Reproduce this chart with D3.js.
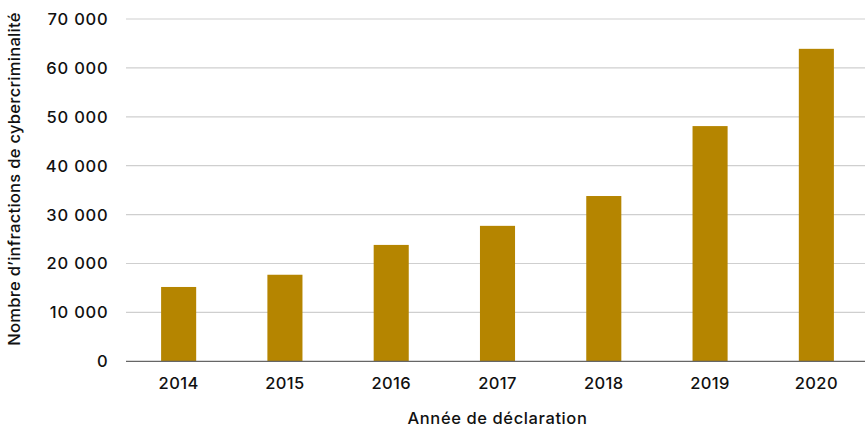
<!DOCTYPE html>
<html><head><meta charset="utf-8">
<script src="https://cdn.jsdelivr.net/npm/d3@7"></script>
<style>
html,body{margin:0;padding:0;background:#fff;}
svg text{font-family:Inter,"Open Sans",sans-serif;fill:#111;}
</style></head>
<body><svg id="c" width="865" height="429"></svg>
<script>
const years = ["2014","2015","2016","2017","2018","2019","2020"];
const values = [15200, 17700, 23800, 27700, 33800, 48100, 63900];
const yTicks = [0,10000,20000,30000,40000,50000,60000,70000];
const xTitle = "Année de déclaration";
const yTitle = "Nombre d’infractions de cybercriminalité";

const svg = d3.select("#c");
const x = d3.scaleBand().domain(years).range([125.5, 869.5]).paddingInner(0.67).paddingOuter(0.335);
const y = d3.scaleLinear().domain([0,70000]).range([361.3, 19]);
const fmt = v => d3.format(",")(v).replace(/,/g, " ");

// gridlines
svg.append("g").selectAll("line").data(yTicks.filter(d=>d>0)).join("line")
  .attr("x1",126).attr("x2",865)
  .attr("y1",d=>y(d)).attr("y2",d=>y(d))
  .attr("stroke","#cfcfcf").attr("stroke-width",1.2);

// y tick labels
svg.append("g").selectAll("text").data(yTicks).join("text")
  .attr("x",108.5).attr("y",d=>y(d)).attr("dy","0.36em")
  .attr("text-anchor","end").attr("font-size",16.5).attr("font-weight",500)
  .attr("letter-spacing","0.8px")
  .text(fmt);

// bars
svg.append("g").selectAll("rect").data(values).join("rect")
  .attr("x",(d,i)=>x(years[i])).attr("width",x.bandwidth())
  .attr("y",d=>y(d)).attr("height",d=>y(0)-y(d))
  .attr("fill","#B58500");

// baseline
svg.append("line").attr("x1",126).attr("x2",865).attr("y1",y(0)).attr("y2",y(0))
  .attr("stroke","#666").attr("stroke-width",1.3);

// x tick labels
svg.append("g").selectAll("text").data(years).join("text")
  .attr("x",d=>x(d)+x.bandwidth()/2).attr("y",389)
  .attr("text-anchor","middle").attr("font-size",16.5).attr("font-weight",500)
  .attr("letter-spacing","0.4px")
  .text(d=>d);

// axis titles
svg.append("text").attr("x",497.5).attr("y",424).attr("text-anchor","middle")
  .attr("font-size",16.5).attr("font-weight",500).attr("letter-spacing","0.6px").text(xTitle);
svg.append("text").attr("transform","translate(20,179) rotate(-90)")
  .attr("text-anchor","middle").attr("font-size",16.5).attr("font-weight",500).attr("letter-spacing","0.3px").text(yTitle);
</script></body></html>
